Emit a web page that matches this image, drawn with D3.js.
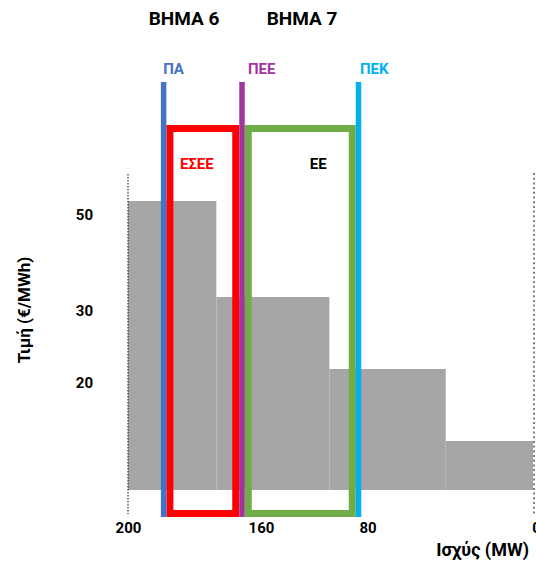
<!DOCTYPE html>
<html>
<head>
<meta charset="utf-8">
<script src="https://cdn.jsdelivr.net/npm/d3@7"></script>
<style>
  body { margin: 0; background: #fff; }
  svg text { font-family: Roboto, "Noto Sans", sans-serif; font-weight: bold; }
</style>
</head>
<body>
<script>
// data
const powerTicks = [200, 160, 80, 0];          // MW
const priceTicks = [50, 30, 20];               // €/MWh
const stepEdges = [200, 169, 100, 40, 0];      // bar borders, MW
const stepPrices = [50, 30, 20, 10];           // bar heights
const markerNames = ["ΠΑ", "ΠΕΕ", "ΠΕΚ"];
const markerPower = [187.5, 160, 80];
const boxNames = ["ΕΣΕΕ", "ΕΕ"];               // box i spans marker i .. i+1
const stageNames = ["ΒΗΜΑ 6", "ΒΗΜΑ 7"];

const W = 536, H = 570;
const lineW = 5.5, boxW = 7;
const markerTop = 82, boxTop = 125, boxBottom = 517;

// the drawing is schematic, so both scales are piecewise
const x = d3.scaleLinear().domain([200, 160, 80, 0]).range([128, 242, 358.5, 533]);
const y = d3.scaleLinear().domain([0, 10, 20, 30, 50]).range([490, 441, 369, 297, 201]);

const markerStyle = [
  {color: "#4472C4", dx: -0.5},
  {color: "#A0369B", dx: 6},
  {color: "#00B0F0", dx: 1.5}
];
const boxStyle = [
  {color: "#FF0000", label: "#FF0000", lx: -6},
  {color: "#70AD47", label: "#000000", lx: 18}
];
const tickDx = {200: 0, 160: 19, 80: 9, 0: 3};

const svg = d3.select("body").append("svg")
    .attr("width", W)
    .attr("height", H);

// gray step bars
svg.selectAll(".bar")
    .data(stepPrices)
    .enter().append("rect")
    .attr("class", "bar")
    .attr("x", (d, i) => x(stepEdges[i]))
    .attr("width", (d, i) => x(stepEdges[i + 1]) - x(stepEdges[i]))
    .attr("y", d => y(d))
    .attr("height", d => y(0) - y(d))
    .attr("fill", "#A6A6A6");

// dotted borders at 200 and 0
svg.append("line")
    .attr("x1", x(200)).attr("x2", x(200))
    .attr("y1", 174).attr("y2", 514)
    .attr("stroke", "#000").attr("stroke-width", 1)
    .attr("stroke-dasharray", "1.5,1.5");
svg.append("line")
    .attr("x1", x(0) + 1).attr("x2", x(0) + 1)
    .attr("y1", 173).attr("y2", 515)
    .attr("stroke", "#808080").attr("stroke-width", 2)
    .attr("stroke-dasharray", "2,2.7");

// boxes between the markers
svg.selectAll(".box")
    .data(boxNames)
    .enter().append("rect")
    .attr("class", "box")
    .attr("x", (d, i) => x(markerPower[i]) + lineW / 2 + boxW / 2)
    .attr("width", (d, i) => x(markerPower[i + 1]) - x(markerPower[i]) - lineW - boxW)
    .attr("y", boxTop + boxW / 2)
    .attr("height", boxBottom - boxTop - boxW)
    .attr("fill", "none")
    .attr("stroke", (d, i) => boxStyle[i].color)
    .attr("stroke-width", boxW);

svg.selectAll(".boxlabel")
    .data(boxNames)
    .enter().append("text")
    .attr("class", "boxlabel")
    .attr("x", (d, i) => (x(markerPower[i]) + x(markerPower[i + 1])) / 2 + boxStyle[i].lx)
    .attr("y", 169)
    .attr("text-anchor", "middle")
    .attr("font-size", 15)
    .attr("fill", (d, i) => boxStyle[i].label)
    .text(d => d);

// vertical marker lines
svg.selectAll(".marker")
    .data(markerPower)
    .enter().append("line")
    .attr("class", "marker")
    .attr("x1", d => x(d)).attr("x2", d => x(d))
    .attr("y1", markerTop).attr("y2", boxBottom)
    .attr("stroke", (d, i) => markerStyle[i].color)
    .attr("stroke-width", lineW);

svg.selectAll(".markerlabel")
    .data(markerNames)
    .enter().append("text")
    .attr("class", "markerlabel")
    .attr("x", (d, i) => x(markerPower[i]) + markerStyle[i].dx)
    .attr("y", 74)
    .attr("font-size", 15)
    .attr("fill", (d, i) => markerStyle[i].color)
    .text(d => d);

// stage titles
svg.selectAll(".stage")
    .data(stageNames)
    .enter().append("text")
    .attr("class", "stage")
    .attr("x", (d, i) => [184, 302][i])
    .attr("y", 25)
    .attr("text-anchor", "middle")
    .attr("font-size", 19)
    .attr("fill", "#000")
    .text(d => d);

// axes
const xAxis = d3.axisBottom(x).tickValues(powerTicks).tickSize(0).tickPadding(0)
    .tickFormat(d3.format("d"));
const gx = svg.append("g")
    .attr("transform", "translate(0,522)")
    .call(xAxis);
gx.select(".domain").remove();
gx.selectAll("text")
    .attr("font-size", 15)
    .attr("fill", "#000")
    .attr("dx", d => tickDx[d]);

const yAxis = d3.axisLeft(y).tickValues(priceTicks).tickSize(0).tickPadding(0);
const gy = svg.append("g")
    .attr("transform", "translate(93,14)")
    .call(yAxis);
gy.select(".domain").remove();
gy.selectAll("text")
    .attr("font-size", 15)
    .attr("fill", "#000");

svg.selectAll(".tick text").style("font-family", "Roboto, sans-serif").style("font-weight", "bold");

// axis titles
svg.append("text")
    .attr("transform", "translate(30,310) rotate(-90)")
    .attr("text-anchor", "middle")
    .attr("font-size", 17)
    .attr("fill", "#000")
    .text("Τιμή (€/MWh)");

svg.append("text")
    .attr("x", 529)
    .attr("y", 556)
    .attr("text-anchor", "end")
    .attr("font-size", 18)
    .attr("fill", "#000")
    .text("Ισχύς (MW)");
</script>
</body>
</html>
